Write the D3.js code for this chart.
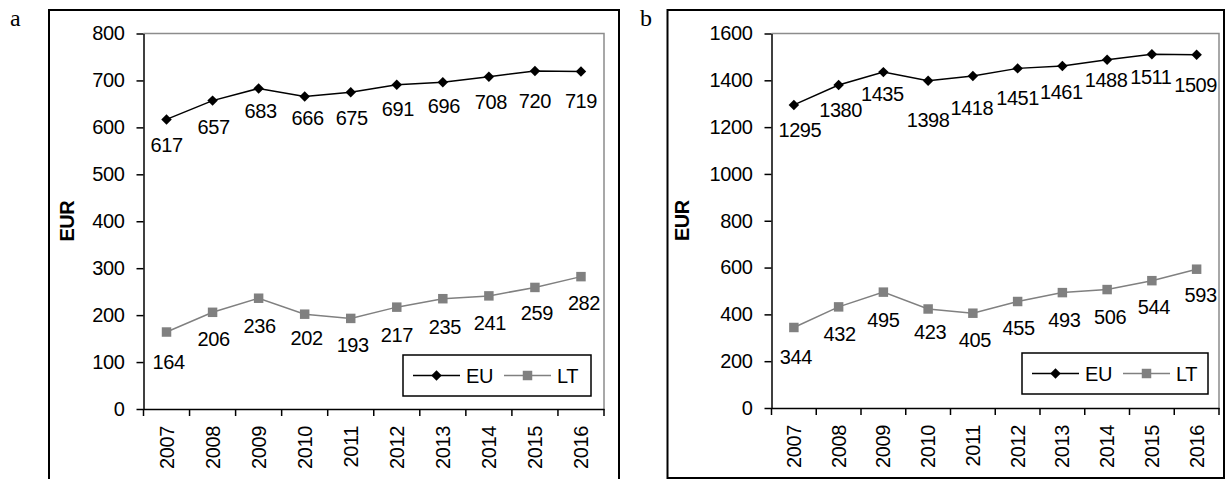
<!DOCTYPE html>
<html>
<head>
<meta charset="utf-8">
<script src="https://cdn.jsdelivr.net/npm/d3@7"></script>
<style>
  body { margin: 0; background: #fff; }
  svg { display: block; }
  .num { font-family: "Liberation Sans Narrow", "Arial Narrow", "Liberation Sans", sans-serif; font-size: 20px; letter-spacing: -0.4px; fill: #000; }
</style>
</head>
<body>
<svg id="chart" width="1225" height="479"></svg>
<script>
const years = ['2007', '2008', '2009', '2010', '2011', '2012', '2013', '2014', '2015', '2016'];

// panel a: EUR
const euA = [617, 657, 683, 666, 675, 691, 696, 708, 720, 719];
const ltA = [164, 206, 236, 202, 193, 217, 235, 241, 259, 282];
const ticksA = [0, 100, 200, 300, 400, 500, 600, 700, 800];

// panel b: EUR
const euB = [1295, 1380, 1435, 1398, 1418, 1451, 1461, 1488, 1511, 1509];
const ltB = [344, 432, 495, 423, 405, 455, 493, 506, 544, 593];
const ticksB = [0, 200, 400, 600, 800, 1000, 1200, 1400, 1600];

// hand placed data labels (offset from the marker, px)
const nudgeEuA = [[0, 26], [1, 26], [2, 23], [3, 22], [1, 26], [1, 24], [1, 24], [2, 25], [0, 30], [0, 29]];
const nudgeLtA = [[2, 30], [1, 27], [1, 28], [2, 24], [2, 27], [0, 28], [2, 28], [1, 27], [2, 26], [3, 26]];
const nudgeEuB = [[6, 25], [2, 25], [-1, 22], [0, 39], [-1, 32], [0, 30], [-1, 26], [-1, 20], [-1, 23], [-1, 30]];
const nudgeLtB = [[2, 30], [1, 27], [0, 28], [2, 23], [2, 27], [1, 26], [2, 27], [3, 27], [2, 26], [4, 26]];

const svg = d3.select('#chart');

const diamond = d3.symbol().type(d3.symbolDiamond2).size(70);
const square = d3.symbol().type(d3.symbolSquare).size(90);

function drawPanel(p) {
    // outer frame
    svg.append('rect')
        .attr('x', p.frame[0]).attr('y', p.frame[1])
        .attr('width', p.frame[2]).attr('height', p.frame[3])
        .attr('fill', 'none').attr('stroke', '#000').attr('stroke-width', 2);

    svg.append('text')
        .attr('x', p.letterX).attr('y', 26)
        .attr('font-family', '"Liberation Serif", "Times New Roman", serif')
        .attr('font-size', 24)
        .text(p.letter);

    const x = d3.scaleBand().domain(years).range([p.left, p.right]);
    const y = d3.scaleLinear().domain([p.ticks[0], p.ticks[p.ticks.length - 1]]).range([p.bottom, p.top]);

    // plot area edges, top and right in grey
    svg.append('path')
        .attr('d', `M${p.left},${p.top}H${p.right}V${p.bottom}`)
        .attr('fill', 'none').attr('stroke', '#8c8c8c').attr('stroke-width', 1.5);

    const yAxis = svg.append('g')
        .attr('transform', `translate(${p.left},0)`)
        .call(d3.axisLeft(y).tickValues(p.ticks).tickFormat(d3.format('d'))
            .tickSize(7).tickPadding(12).tickSizeOuter(0));
    yAxis.select('.domain').attr('stroke-width', 1.5);
    yAxis.selectAll('.tick line').attr('stroke-width', 1.5);
    yAxis.selectAll('.tick text').attr('class', 'num').attr('font-size', null).attr('font-family', null);

    const xAxis = svg.append('g')
        .attr('transform', `translate(0,${p.bottom})`)
        .call(d3.axisBottom(x).tickSize(0).tickSizeOuter(0));
    xAxis.select('.domain').attr('stroke-width', 1.5);
    xAxis.selectAll('.tick text')
        .attr('class', 'num').attr('font-size', null).attr('font-family', null)
        .attr('transform', 'rotate(-90)')
        .attr('text-anchor', 'end')
        .attr('x', -17).attr('y', 0).attr('dy', '0.35em');
    // ticks between categories
    xAxis.selectAll('.bound')
        .data(d3.range(years.length + 1))
        .join('line')
        .attr('x1', i => p.left + i * x.step()).attr('x2', i => p.left + i * x.step())
        .attr('y1', 0).attr('y2', 7)
        .attr('stroke', '#000').attr('stroke-width', 1.5);

    svg.append('text')
        .attr('transform', `translate(${p.titleX},${(p.top + p.bottom) / 2}) rotate(-90)`)
        .attr('text-anchor', 'middle').attr('dy', '0.35em')
        .attr('font-family', '"Liberation Sans Narrow", "Arial Narrow", "Liberation Sans", sans-serif')
        .attr('font-weight', 'bold').attr('font-size', 20).attr('letter-spacing', -0.5)
        .text('EUR');

    const cx = (d, i) => x(years[i]) + x.bandwidth() / 2;
    const line = d3.line().x(cx).y(d => y(d));

    const series = [
        { values: p.lt, color: '#808080', shape: square, nudge: p.nudgeLt },
        { values: p.eu, color: '#000', shape: diamond, nudge: p.nudgeEu }
    ];
    series.forEach(s => {
        svg.append('path').datum(s.values)
            .attr('d', line)
            .attr('fill', 'none').attr('stroke', s.color).attr('stroke-width', 1.5);
        svg.append('g').selectAll('path')
            .data(s.values).join('path')
            .attr('d', s.shape)
            .attr('transform', (d, i) => `translate(${cx(d, i)},${y(d)})`)
            .attr('fill', s.color);
        svg.append('g').selectAll('text')
            .data(s.values).join('text')
            .attr('class', 'num')
            .attr('text-anchor', 'middle').attr('dy', '0.35em')
            .attr('x', (d, i) => cx(d, i) + s.nudge[i][0])
            .attr('y', (d, i) => y(d) + s.nudge[i][1])
            .text(d => d);
    });

    // legend
    const lw = p.legend[2], lh = p.legend[3];
    const lg = svg.append('g').attr('transform', `translate(${p.legend[0]},${p.legend[1]})`);
    lg.append('rect').attr('width', lw).attr('height', lh)
        .attr('fill', '#fff').attr('stroke', '#000').attr('stroke-width', 1.5);
    const items = [
        { name: 'EU', color: '#000', shape: diamond, x0: 10 },
        { name: 'LT', color: '#808080', shape: square, x0: 101 }
    ];
    items.forEach(it => {
        lg.append('line')
            .attr('x1', it.x0).attr('x2', it.x0 + 47)
            .attr('y1', lh / 2).attr('y2', lh / 2)
            .attr('stroke', it.color).attr('stroke-width', 1.5);
        lg.append('path').attr('d', it.shape)
            .attr('transform', `translate(${it.x0 + 23.5},${lh / 2})`)
            .attr('fill', it.color);
        lg.append('text').attr('class', 'num')
            .attr('x', it.x0 + 53).attr('y', lh / 2).attr('dy', '0.35em')
            .text(it.name);
    });
}

drawPanel({
    letter: 'a', letterX: 10, frame: [49, 10, 570, 475],
    left: 143.5, right: 604, top: 33.5, bottom: 409,
    ticks: ticksA, eu: euA, lt: ltA, nudgeEu: nudgeEuA, nudgeLt: nudgeLtA,
    titleX: 67, legend: [403, 355, 188, 41]
});

drawPanel({
    letter: 'b', letterX: 640, frame: [667.5, 10, 556.5, 468],
    left: 771.5, right: 1219, top: 33.5, bottom: 408,
    ticks: ticksB, eu: euB, lt: ltB, nudgeEu: nudgeEuB, nudgeLt: nudgeLtB,
    titleX: 682, legend: [1022, 353, 186, 41]
});
</script>
</body>
</html>
